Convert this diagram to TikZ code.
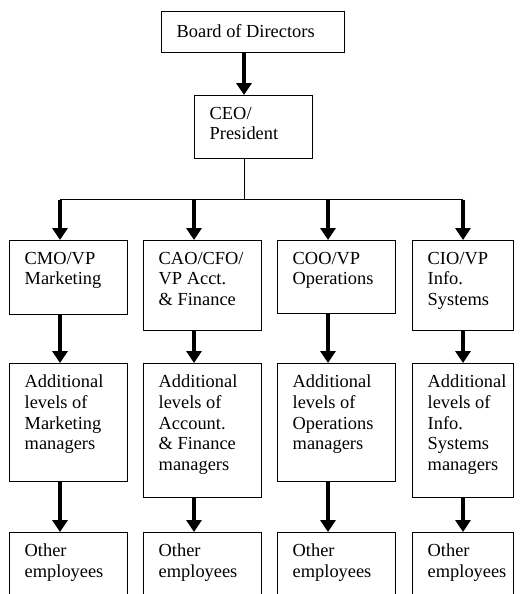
\documentclass[tikz,border=0pt]{standalone}
\usepackage{fontspec}
\setmainfont{Liberation Serif}
\usetikzlibrary{arrows.meta}
% org box: name, left, top, width, height, text
\newcommand\orgbox[6]{%
  \node[box, minimum width=#4pt, minimum height=#5pt] (#1) at (#2,#3) {};
  \node[txt] (#1t) at ([xshift=15.5pt,yshift=-12pt]#1.north west) {#6};}
\begin{document}
\begin{tikzpicture}[x=1pt,y=-1pt,
  box/.style={draw, line width=1pt, inner sep=0pt, anchor=north west},
  txt/.style={anchor=north west, inner sep=0pt, align=left,
    font=\fontsize{18.4}{20.6}\selectfont, execute at begin node=\rule{0pt}{14pt}},
  arr/.style={line width=3.6pt, -{Triangle[length=12pt,width=15pt]}},
  thinline/.style={line width=1pt}]
\useasboundingbox (0,0) rectangle (522,594);
\clip (0,0) rectangle (522,594);

% top of the chart
\orgbox{board}{161}{11}{183}{41}{Board of Directors}
\orgbox{ceo}{194}{95}{118}{63}{CEO/\\President}

% column positions and the branch line
\coordinate (x0) at (244,0);
\coordinate (bus) at (244,199.5);
\coordinate (b1) at (60,199.5);
\coordinate (b2) at (194,199.5);
\coordinate (b3) at (328,199.5);
\coordinate (b4) at (463,199.5);

% vice presidents
\orgbox{vp1}{9}{240}{118}{74}{CMO/VP\\Marketing}
\orgbox{vp2}{143}{240}{118}{90}{CAO/CFO/\\VP Acct.\\\& Finance}
\orgbox{vp3}{277}{240}{118}{73}{COO/VP\\Operations}
\orgbox{vp4}{412}{240}{101}{90}{CIO/VP\\Info.\\Systems}

% managers
\orgbox{mg1}{9}{363}{118}{118}{Additional\\levels of\\Marketing\\managers}
\orgbox{mg2}{143}{363}{118}{134}{Additional\\levels of\\Account.\\\& Finance\\managers}
\orgbox{mg3}{277}{363}{118}{118}{Additional\\levels of\\Operations\\managers}
\orgbox{mg4}{412}{363}{101}{134}{Additional\\levels of\\Info.\\Systems\\managers}

% employees
\orgbox{em1}{9}{532}{118}{90}{Other\\employees}
\orgbox{em2}{143}{532}{118}{90}{Other\\employees}
\orgbox{em3}{277}{532}{118}{90}{Other\\employees}
\orgbox{em4}{412}{532}{101}{90}{Other\\employees}

% connectors
\draw[arr] (board.south -| x0) -- (ceo.north -| x0);
\draw[thinline] (ceo.south -| x0) -- (bus);
\draw[thinline] (b1) -- (b4);
\foreach \i in {1,2,3,4}{
  \draw[arr] (b\i) -- (vp\i.north -| b\i);
  \draw[arr] (vp\i.south -| b\i) -- (mg\i.north -| b\i);
  \draw[arr] (mg\i.south -| b\i) -- (em\i.north -| b\i);
}
\end{tikzpicture}
\end{document}
